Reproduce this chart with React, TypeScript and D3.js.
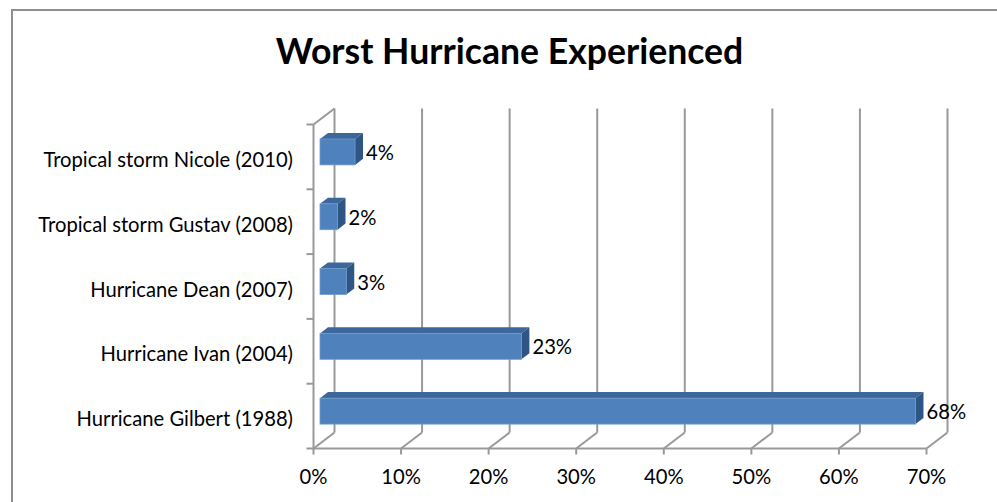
import React from "react";
import * as d3 from "d3";

// Survey results: worst hurricane each respondent experienced
const categories: string[] = [
  "Tropical storm Nicole (2010)",
  "Tropical storm Gustav (2008)",
  "Hurricane Dean (2007)",
  "Hurricane Ivan (2004)",
  "Hurricane Gilbert (1988)",
];
const shares: number[] = [0.04, 0.02, 0.03, 0.23, 0.68];
const valueTicks: number[] = [0, 0.1, 0.2, 0.3, 0.4, 0.5, 0.6, 0.7];
const chartTitle = "Worst Hurricane Experienced";

const W = 997;
const H = 502;
const FONT = "Lato, 'Open Sans', sans-serif";
const LABEL_SIZE = 20.2;

// Oblique depth of the 3D plot box
const DX = 21;
const DY = -16;
// Bars sit in the middle of the depth
const BAR_FRONT = 0.31;
const BAR_DEPTH = 0.38;

const GRID = "#999999";

export default function App() {
  const x = d3.scaleLinear().domain([0, 0.7]).range([313.5, 926.5]);
  const y = d3
    .scaleBand<string>()
    .domain(categories)
    .range([124.5, 448.5])
    .paddingInner(0)
    .paddingOuter(0);

  const floorY = 448.5;
  const topY = 124.5;
  const pct = d3.format(".0%");

  const bw = y.bandwidth();
  const barH = bw * 0.4;
  const fdx = DX * BAR_FRONT;
  const fdy = DY * BAR_FRONT;
  const bdx = DX * BAR_DEPTH;
  const bdy = DY * BAR_DEPTH;

  return (
    <svg
      width={W}
      height={H}
      style={{ position: "absolute", left: 0, top: 0, background: "#fff" }}
      fontFamily={FONT}
    >
      {/* chart area border */}
      <path d={`M12,${H + 5} L12,10 L${W + 5},10`} fill="none" stroke="#8e8e8e" strokeWidth={2} />

      <text
        x={509.5}
        y={63.5}
        textAnchor="middle"
        fontSize={35.6}
        fontWeight="bold"
        fill="#000"
      >
        {chartTitle}
      </text>

      {/* back wall and floor gridlines */}
      {valueTicks.map((t) => (
        <g key={`g${t}`} stroke={GRID} strokeWidth={2} fill="none">
          <line x1={x(t) + DX} x2={x(t) + DX} y1={topY + DY} y2={floorY + DY} />
          <line x1={x(t)} y1={floorY} x2={x(t) + DX} y2={floorY + DY} />
        </g>
      ))}

      {/* side wall: front edge and top edge */}
      <g stroke={GRID} strokeWidth={2} fill="none">
        <line x1={x(0)} x2={x(0)} y1={topY} y2={floorY} />
        <line x1={x(0)} y1={topY} x2={x(0) + DX} y2={topY + DY} />
        <line x1={x(0)} y1={floorY} x2={x(0.7)} y2={floorY} />
        {/* category ticks */}
        {[...categories.map((c) => y(c) as number), floorY].map((v, i) => (
          <line key={`ct${i}`} x1={x(0) - 7} x2={x(0)} y1={v} y2={v} />
        ))}
        {/* value ticks */}
        {valueTicks.map((t) => (
          <line key={`vt${t}`} x1={x(t)} x2={x(t)} y1={floorY} y2={floorY + 6} />
        ))}
      </g>

      {/* 3D bars */}
      {categories.map((c, i) => {
        const v = shares[i];
        const cy = (y(c) as number) + bw / 2 + fdy;
        const y0 = cy - barH / 2;
        const y1 = cy + barH / 2;
        const x0 = x(0) + fdx;
        const x1 = x(v) + fdx;
        return (
          <g key={c}>
            <polygon
              points={`${x0},${y0} ${x1},${y0} ${x1 + bdx},${y0 + bdy} ${x0 + bdx},${y0 + bdy}`}
              fill="#3b679b"
            />
            <polygon
              points={`${x1},${y0} ${x1 + bdx},${y0 + bdy} ${x1 + bdx},${y1 + bdy} ${x1},${y1}`}
              fill="#2f5585"
            />
            <rect
              x={x0}
              y={y0}
              width={x1 - x0}
              height={barH}
              fill="#4f81bd"
              stroke="#6f99cc"
              strokeWidth={0.8}
            />
            <text x={x1 + 11} y={cy + 8} fontSize={LABEL_SIZE} fill="#000">
              {pct(v)}
            </text>
          </g>
        );
      })}

      {/* category labels */}
      {categories.map((c) => (
        <text
          key={`l${c}`}
          x={293}
          y={(y(c) as number) + bw / 2 + 10}
          textAnchor="end"
          fontSize={LABEL_SIZE}
          fill="#000"
        >
          {c}
        </text>
      ))}

      {/* value axis labels */}
      {valueTicks.map((t) => (
        <text key={`xl${t}`} x={x(t)} y={484} textAnchor="middle" fontSize={LABEL_SIZE} fill="#000">
          {pct(t)}
        </text>
      ))}
    </svg>
  );
}
